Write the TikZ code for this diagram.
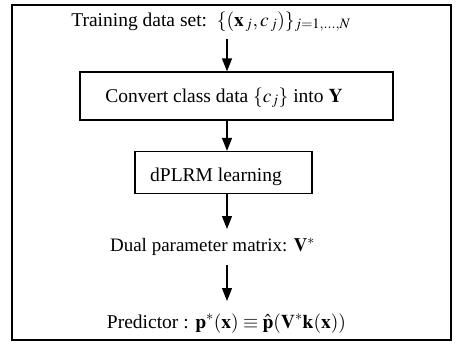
\documentclass[tikz,border=0pt]{standalone}
\usepackage{mathptmx}
\usepackage[no-math]{fontspec}
\setmainfont{Liberation Serif}
\usetikzlibrary{arrows.meta}
\begin{document}
\begin{tikzpicture}[x=1pt,y=-1pt,
  arr/.style={line width=1.4pt,-{Triangle[width=10pt,length=13pt]}},
  boxnode/.style={draw,line width=1.3pt,inner sep=0pt},
  txt/.style={inner sep=0pt,anchor=base,font=\fontsize{19.5}{23}\selectfont}]
\useasboundingbox (0,0) rectangle (456,351);
\draw[line width=1.6pt] (12,5) rectangle (451,340);
\node[txt] (train) at (211,26) {Training data set:\ \ $\{(\mathbf{x}_{\,j},c_{\,j})\}_{j=1,\ldots,N}$};
\node[boxnode,minimum width=313pt,minimum height=48pt] (box1) at (236.5,96) {};
\node[txt] at (224,102) {Convert class data $\{c_j\}$ into $\mathbf{Y}$};
\node[boxnode,minimum width=177pt,minimum height=42pt] (box2) at (223.5,172.5) {};
\node[txt] at (216,181) {dPLRM learning};
\node[txt,font=\fontsize{19}{23}\selectfont] (dual) at (212.5,251) {Dual parameter matrix: $\mathbf{V}^*$};
\node[txt] (pred) at (226.5,328) {Predictor : $\mathbf{p}^{*}(\mathbf{x})\equiv\hat{\mathbf{p}}(\mathbf{V}^{*}\mathbf{k}(\mathbf{x}))$};
\coordinate (a1) at (227,39);
\coordinate (a3) at (227,229);
\coordinate (a4) at (227,265);
\coordinate (a5) at (227,301);
\draw[arr] (a1) -- (box1.north -| a1);
\draw[arr] (box1.south -| a1) -- (box2.north -| a1);
\draw[arr] (box2.south -| a1) -- (a3);
\draw[arr] (a4) -- (a5);
\end{tikzpicture}
\end{document}
